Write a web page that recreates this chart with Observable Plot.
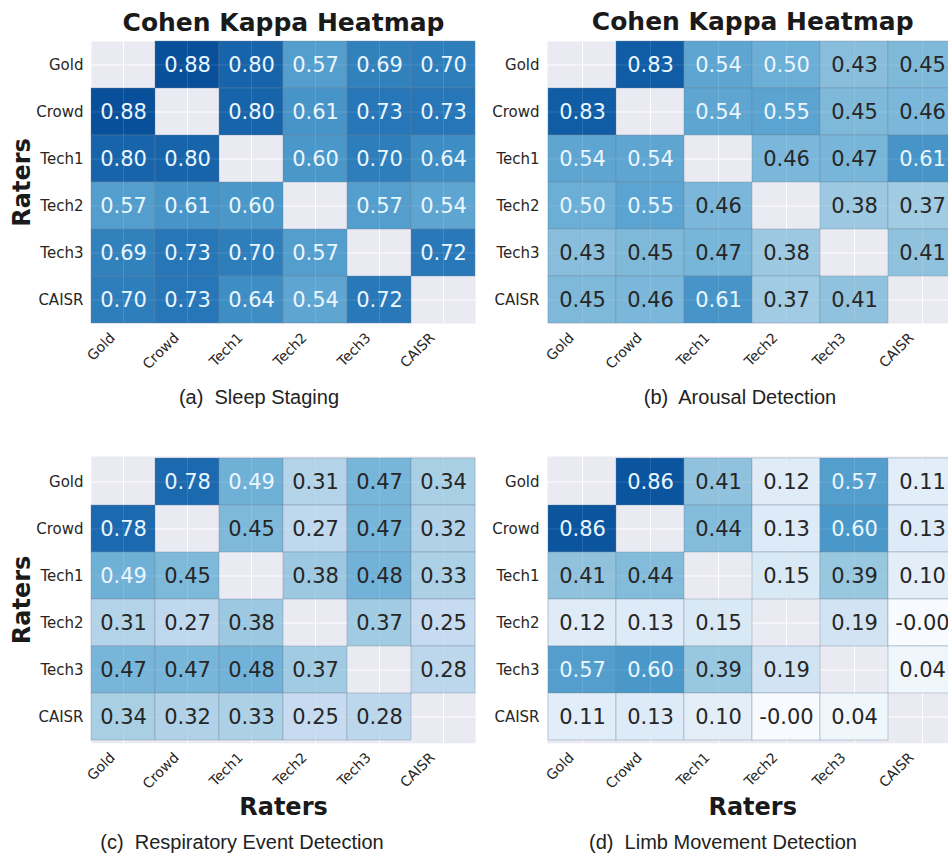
<!DOCTYPE html>
<html>
<head>
<meta charset="utf-8">
<script src="https://cdn.jsdelivr.net/npm/d3@7"></script>
<script src="https://cdn.jsdelivr.net/npm/@observablehq/plot@0.6"></script>
<style>
  html, body { margin: 0; padding: 0; background: #fff; }
  #page { position: relative; width: 948px; height: 859px; overflow: hidden; background: #fff; }
  .panel { position: absolute; }
  .panel svg { max-width: none !important; }
  .caption { position: absolute; width: 420px; text-align: center; font-family: "Liberation Sans", Arial, sans-serif; font-size: 20px; line-height: 20px; color: #222; white-space: pre; }
</style>
</head>
<body>
<div id="page"></div>
<script>
// ---- data ----
const raters = ["Gold", "Crowd", "Tech1", "Tech2", "Tech3", "CAISR"];

const sleepStaging = [
  [null, 0.88, 0.80, 0.57, 0.69, 0.70],
  [0.88, null, 0.80, 0.61, 0.73, 0.73],
  [0.80, 0.80, null, 0.60, 0.70, 0.64],
  [0.57, 0.61, 0.60, null, 0.57, 0.54],
  [0.69, 0.73, 0.70, 0.57, null, 0.72],
  [0.70, 0.73, 0.64, 0.54, 0.72, null]
];
const arousalDetection = [
  [null, 0.83, 0.54, 0.50, 0.43, 0.45],
  [0.83, null, 0.54, 0.55, 0.45, 0.46],
  [0.54, 0.54, null, 0.46, 0.47, 0.61],
  [0.50, 0.55, 0.46, null, 0.38, 0.37],
  [0.43, 0.45, 0.47, 0.38, null, 0.41],
  [0.45, 0.46, 0.61, 0.37, 0.41, null]
];
const respiratoryDetection = [
  [null, 0.78, 0.49, 0.31, 0.47, 0.34],
  [0.78, null, 0.45, 0.27, 0.47, 0.32],
  [0.49, 0.45, null, 0.38, 0.48, 0.33],
  [0.31, 0.27, 0.38, null, 0.37, 0.25],
  [0.47, 0.47, 0.48, 0.37, null, 0.28],
  [0.34, 0.32, 0.33, 0.25, 0.28, null]
];
const limbDetection = [
  [null, 0.86, 0.41, 0.12, 0.57, 0.11],
  [0.86, null, 0.44, 0.13, 0.60, 0.13],
  [0.41, 0.44, null, 0.15, 0.39, 0.10],
  [0.12, 0.13, 0.15, null, 0.19, -0.002],
  [0.57, 0.60, 0.39, 0.19, null, 0.04],
  [0.11, 0.13, 0.10, -0.002, 0.04, null]
];

const titleText = "Cohen Kappa Heatmap";
const axisLabel = "Raters";
const captions = ["(a)  Sleep Staging", "(b)  Arousal Detection", "(c)  Respiratory Event Detection", "(d)  Limb Movement Detection"];

// matplotlib "Blues" stops
const blueStops = [0, 0.125, 0.25, 0.375, 0.5, 0.625, 0.75, 0.875, 1];
const blueColors = ["#f7fbff", "#deebf7", "#c6dbef", "#9ecae1", "#6baed6", "#4292c6", "#2171b5", "#08519c", "#08306b"];

function panel({matrix, title, xLabel, yLabel, marginLeft, cellW, cellH}) {
  const data = raters.flatMap((r, i) => raters.map((c, j) => ({row: r, col: c, value: matrix[i][j]})))
    .filter(d => d.value != null);
  const marginTop = 41, marginBottom = 80, marginRight = 5;
  const width = marginLeft + 6 * cellW + marginRight;
  const height = marginTop + 6 * cellH + marginBottom;
  const marks = [
    Plot.frame({fill: "#eaeaf2", stroke: null}),
    Plot.gridX({stroke: "white", strokeOpacity: 1, strokeWidth: 1}),
    Plot.gridY({stroke: "white", strokeOpacity: 1, strokeWidth: 1}),
    Plot.cell(data, {x: "col", y: "row", fill: "value", stroke: "#6f8296", strokeOpacity: 0.45, strokeWidth: 0.8}),
    Plot.gridX({stroke: "white", strokeOpacity: 0.12, strokeWidth: 1}),
    Plot.gridY({stroke: "white", strokeOpacity: 0.12, strokeWidth: 1}),
    Plot.text(data, {x: "col", y: "row", text: d => d.value.toFixed(2),
      fill: d => d.value >= 0.485 ? "#eaf6ff" : "#262626", fontSize: 21}),
    Plot.axisY({tickSize: 0, tickPadding: 8, fontSize: 15, label: null}),
    Plot.axisX({tickSize: 0, tickPadding: 12, tickRotate: -45, textAnchor: "end", fontSize: 14, label: null, dx: -11})
  ];
  if (title) marks.push(Plot.text([titleText], {frameAnchor: "top", dy: -11, lineAnchor: "bottom", fontSize: 25, fontWeight: "bold", fill: "#1a1a1a"}));
  if (yLabel) marks.push(Plot.text([axisLabel], {frameAnchor: "left", rotate: -90, dx: -(marginLeft - 29), textAnchor: "middle", lineAnchor: "bottom", fontSize: 24, fontWeight: "bold", fill: "#1a1a1a"}));
  if (xLabel) marks.push(Plot.text([axisLabel], {frameAnchor: "bottom", dy: 72, textAnchor: "middle", lineAnchor: "bottom", fontSize: 24, fontWeight: "bold", fill: "#1a1a1a"}));
  return Plot.plot({
    width, height, marginLeft, marginTop, marginRight, marginBottom,
    style: {fontFamily: "DejaVu Sans", color: "#262626", background: "transparent", overflow: "visible", maxWidth: "none"},
    x: {domain: raters, padding: 0, label: null},
    y: {domain: raters, padding: 0, label: null},
    color: {type: "linear", domain: blueStops, range: blueColors, clamp: true},
    marks
  });
}

const page = document.getElementById("page");
const layout = [
  {matrix: sleepStaging, left: 0, top: 0, marginLeft: 91, cellW: 64, cellH: 47, title: true, xLabel: false, yLabel: true, capX: 259, capTop: 387},
  {matrix: arousalDetection, left: 480, top: 0, marginLeft: 67, cellW: 68.4, cellH: 47, title: true, xLabel: false, yLabel: false, capX: 740, capTop: 387},
  {matrix: respiratoryDetection, left: 0, top: 415, marginLeft: 91, cellW: 64, cellH: 47.8, title: false, xLabel: true, yLabel: true, capX: 242, capTop: 832},
  {matrix: limbDetection, left: 480, top: 415, marginLeft: 67, cellW: 68.4, cellH: 47.8, title: false, xLabel: true, yLabel: false, capX: 723, capTop: 832}
];
layout.forEach((p, i) => {
  const div = document.createElement("div");
  div.className = "panel";
  div.style.left = p.left + "px";
  div.style.top = p.top + "px";
  div.style.width = "600px";
  div.appendChild(panel(p));
  page.appendChild(div);
  const cap = document.createElement("div");
  cap.className = "caption";
  cap.style.left = (p.capX - 210) + "px";
  cap.style.top = p.capTop + "px";
  cap.textContent = captions[i];
  page.appendChild(cap);
});
</script>
</body>
</html>
